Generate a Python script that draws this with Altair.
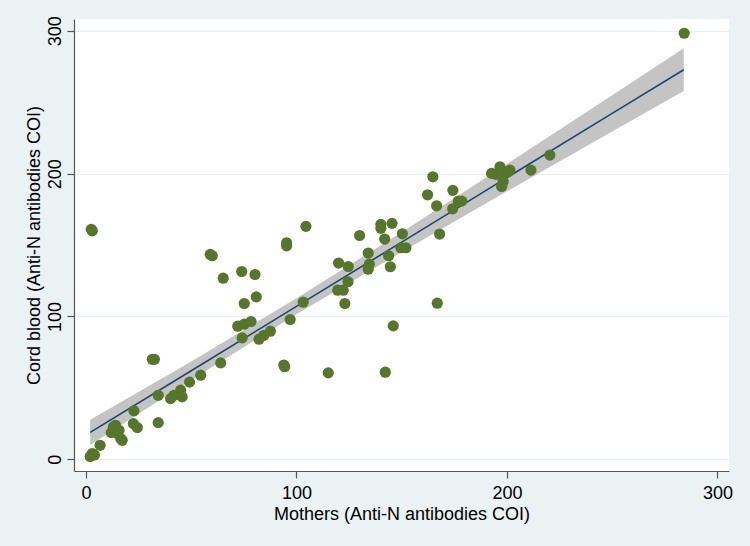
import altair as alt
import pandas as pd

# Scatter data: mothers (x) vs cord blood (y), Anti-N antibodies COI
mothers = [2, 3, 4, 2.5, 3, 6.7, 12, 13, 14, 15, 15.7, 16.5, 17.2, 22.8, 22.5, 24.4,
           31.5, 32.5, 34.3, 34.3, 40.2, 41.8, 45, 45.7, 49.2, 54.5, 59, 60, 64, 65.2,
           72.1, 74, 74.2, 75.2, 75.2, 78.4, 80.3, 80.9, 82.2, 84.4, 87.6, 94, 94.4,
           95.3, 95.3, 97, 103.2, 104.5, 115.1, 119.6, 120, 122.2, 123, 124.5, 124.6,
           130, 134.1, 134.6, 134.1, 140.1, 140.1, 141.9, 142.2, 143.8, 144.6, 145.4,
           146, 149.6, 150.3, 152, 162.3, 164.8, 166.6, 166.9, 168, 174.2, 174.3,
           176.9, 178.5, 192.7, 194.8, 196.7, 197.5, 198.2, 197.5, 200.6, 201.4,
           211.4, 220.4, 284.2]
cord = [2, 4, 3, 161, 160, 9.8, 18.7, 22.6, 23.8, 18, 20.3, 14.5, 13.3, 33.9, 25, 22.2,
        70, 70, 25.7, 44.8, 42.5, 44.8, 48.4, 43.7, 54, 58.9, 143.5, 142.5, 67.5, 126.8,
        93.2, 131.5, 85, 94.6, 109.1, 96.5, 129.4, 113.7, 84.1, 86.7, 89.7, 66, 64.8,
        151.6, 149.5, 97.9, 110, 163.1, 60.5, 118.4, 137.4, 118.4, 109.1, 124.3, 135,
        156.7, 144.4, 136.6, 133.1, 164.5, 161.7, 154.2, 61, 142.5, 134.8, 165.2,
        93.4, 148.1, 157.9, 148.1, 185.2, 197.8, 177.5, 109.3, 157.7, 175.4, 188.3,
        180.8, 180.8, 200.2, 199.5, 204.8, 199, 194.3, 191, 201.3, 202.5,
        202.5, 213, 298.3]

# Fitted line and 95% CI band
fit_x = [2, 50, 100, 150, 200, 250, 284]
fit_y = [18.8, 62.0, 107.1, 152.1, 197.2, 242.2, 272.8]
ci_lo = [10.0, 55.6, 101.5, 145.2, 187.6, 229.5, 257.8]
ci_hi = [27.6, 68.4, 112.7, 159.0, 206.8, 254.9, 287.8]

y_ticks = [0, 100, 200, 300]
x_ticks = [0, 100, 200, 300]

pts = pd.DataFrame({"x": mothers, "y": cord})
fit = pd.DataFrame({"x": fit_x, "fit": fit_y, "lo": ci_lo, "hi": ci_hi})

FONT = "Liberation Sans"
xscale = alt.Scale(domain=[-5.7, 305.5], nice=False, zero=False)
yscale = alt.Scale(domain=[-8.2, 308.3], nice=False, zero=False)

xaxis = alt.Axis(
    title="Mothers (Anti-N antibodies COI)", values=x_ticks, grid=False,
    labelFont=FONT, labelFontSize=18, labelColor="#000000",
    labelPadding=6, tickSize=7, tickColor="#555555", tickWidth=1.2,
    domainColor="#555555", domainWidth=1.2,
    titleFont=FONT, titleFontSize=18, titleFontWeight="normal", titleColor="#000000",
    titleX=327.5, titleY=48, titleAlign="center", titleBaseline="alphabetic",
)
yaxis = alt.Axis(
    title="Cord blood (Anti-N antibodies COI)", values=y_ticks, grid=True,
    gridColor="#E6EEF0", gridWidth=1,
    labelFont=FONT, labelFontSize=18, labelColor="#000000",
    labelAngle=270, labelAlign="center", labelBaseline="alphabetic",
    labelPadding=7, tickSize=7, tickColor="#555555", tickWidth=1.2,
    domainColor="#555555", domainWidth=1.2,
    titleFont=FONT, titleFontSize=18, titleFontWeight="normal", titleColor="#000000",
    titleAngle=270, titleX=-35, titleY=226, titleAlign="center", titleBaseline="alphabetic",
)

band = alt.Chart(fit).mark_area(color="#C4C4C4", opacity=1).encode(
    x=alt.X("x:Q", scale=xscale, axis=xaxis),
    y=alt.Y("lo:Q", scale=yscale, axis=yaxis),
    y2="hi:Q",
)
line = alt.Chart(fit).mark_line(color="#1A476F", strokeWidth=1.6).encode(
    x=alt.X("x:Q", scale=xscale),
    y=alt.Y("fit:Q", scale=yscale),
)
points = alt.Chart(pts).mark_circle(size=125, color="#55762B", opacity=1).encode(
    x=alt.X("x:Q", scale=xscale),
    y=alt.Y("y:Q", scale=yscale),
)

chart = alt.layer(band, line, points).properties(
    width=655, height=452,
    autosize=alt.AutoSizeParams(type="none"),
    padding={"left": 74, "top": 19, "right": 21, "bottom": 75},
    background="#EAF2F3",
).configure_view(fill="#FFFFFF", stroke=None)

chart.save("out.html", embed_options={"renderer": "svg", "actions": False})
